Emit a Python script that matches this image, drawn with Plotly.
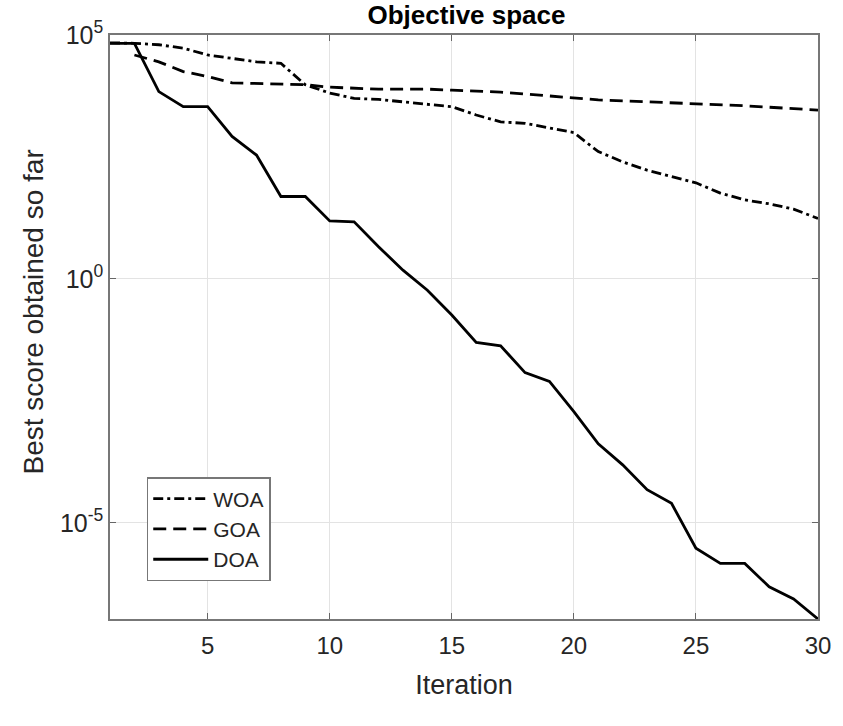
import plotly.graph_objects as go

iterations = list(range(1, 31))

woa_log = [4.84, 4.83, 4.80, 4.73, 4.59, 4.52, 4.45, 4.42, 3.98, 3.81,
           3.70, 3.68, 3.63, 3.59, 3.53, 3.36, 3.22, 3.19, 3.09, 3.00,
           2.61, 2.40, 2.23, 2.10, 1.97, 1.76, 1.62, 1.54, 1.43, 1.24]

goa_iter = list(range(2, 31))
goa_log = [4.59, 4.45, 4.25, 4.15, 4.02, 4.01, 4.00, 3.98, 3.93, 3.91,
           3.89, 3.89, 3.89, 3.87, 3.85, 3.83, 3.79, 3.75, 3.70, 3.67,
           3.65, 3.63, 3.62, 3.60, 3.57, 3.55, 3.52, 3.49, 3.46]

doa_log = [4.83, 4.83, 3.84, 3.53, 3.53, 2.92, 2.54, 1.69, 1.69, 1.19,
           1.17, 0.66, 0.18, -0.23, -0.74, -1.30, -1.37, -1.92, -2.10, -2.72,
           -3.38, -3.81, -4.32, -4.60, -5.52, -5.83, -5.83, -6.31, -6.56, -6.97]

woa = [10 ** v for v in woa_log]
goa = [10 ** v for v in goa_log]
doa = [10 ** v for v in doa_log]

x_ticks = [5, 10, 15, 20, 25, 30]
y_ticks = [1e-5, 1, 1e5]
y_ticktext = ["10<sup>-5</sup>", "10<sup>0</sup>", "10<sup>5</sup>"]

FONT = "Liberation Sans"

fig = go.Figure()
fig.add_trace(go.Scatter(x=iterations, y=woa, mode="lines", name="WOA",
                         line=dict(color="black", width=2.8, dash="10px,4px,3px,4px")))
fig.add_trace(go.Scatter(x=goa_iter, y=goa, mode="lines", name="GOA",
                         line=dict(color="black", width=2.8, dash="13px,7px")))
fig.add_trace(go.Scatter(x=iterations, y=doa, mode="lines", name="DOA",
                         line=dict(color="black", width=2.8)))

fig.update_layout(
    width=843, height=726,
    margin=dict(l=110, r=20, t=35, b=107),
    paper_bgcolor="white", plot_bgcolor="white",
    font=dict(family=FONT, color="#262626", size=24),
    title=dict(text="<b>Objective space</b>", x=(110 + 823) / 2 / 843, xanchor="center",
               y=1 - 15 / 726, yanchor="middle",
               font=dict(family=FONT, size=26, color="black")),
    xaxis=dict(
        range=[1, 30], tickvals=x_ticks, ticks="inside", ticklen=6, tickcolor="#666",
        showgrid=True, gridcolor="#e3e3e3", gridwidth=1,
        showline=True, linecolor="#777", linewidth=1.5, mirror="ticks",
        zeroline=False, tickfont=dict(family=FONT, size=24, color="#262626"),
        ticklabelstandoff=4,
        title=dict(text="Iteration", font=dict(family=FONT, size=27, color="#262626"), standoff=18),
    ),
    yaxis=dict(
        type="log", range=[-6.97, 5.0], tickvals=y_ticks, ticktext=y_ticktext,
        ticks="inside", ticklen=6, tickcolor="#666",
        showgrid=True, gridcolor="#e3e3e3", gridwidth=1,
        showline=True, linecolor="#777", linewidth=1.5, mirror="ticks",
        zeroline=False, tickfont=dict(family=FONT, size=25, color="#262626"),
    ),
    annotations=[dict(
        text="Best score obtained so far", textangle=-90,
        xref="paper", yref="paper", x=(32 - 110) / 713, y=(619 - 312) / 584,
        xanchor="center", yanchor="middle", showarrow=False,
        font=dict(family=FONT, size=28, color="#262626"),
    )],
    legend=dict(
        x=(147 - 110) / 713, y=(619 - 581) / 584, xanchor="left", yanchor="bottom",
        bgcolor="white", bordercolor="#777", borderwidth=1.5,
        font=dict(family=FONT, size=21, color="#262626"), tracegroupgap=0,
        itemwidth=55,
    ),
    showlegend=True,
)

fig.write_html("out.html")
